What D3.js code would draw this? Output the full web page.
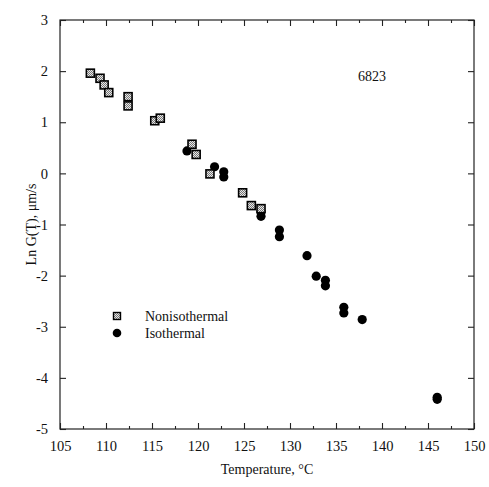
<!DOCTYPE html>
<html>
<head>
<meta charset="utf-8">
<script src="https://cdn.jsdelivr.net/npm/d3@7"></script>
<style>
  html, body { margin: 0; padding: 0; background: #fff; }
  svg text { font-family: "Liberation Serif", "Times New Roman", serif; fill: #111; }
</style>
</head>
<body>
<svg id="chart" width="489" height="487"></svg>
<script>
// Growth rate data, sample 6823
const nonIsoTemp = [108.3, 109.35, 109.8, 110.3, 112.4, 112.4, 115.3, 115.9, 119.35, 119.8, 121.3, 124.85, 125.8, 126.85];
const nonIsoLnG  = [1.96, 1.86, 1.73, 1.58, 1.50, 1.32, 1.03, 1.08, 0.57, 0.37, -0.01, -0.38, -0.63, -0.69];

const isoTemp = [118.8, 121.8, 122.8, 122.8, 126.85, 126.85, 128.85, 128.85, 131.85, 132.85, 133.85, 133.85, 135.85, 135.85, 137.85, 146.0, 146.0];
const isoLnG  = [0.44, 0.13, 0.03, -0.07, -0.75, -0.84, -1.11, -1.24, -1.61, -2.01, -2.09, -2.20, -2.62, -2.73, -2.86, -4.38, -4.42];

const xTicks = [105, 110, 115, 120, 125, 130, 135, 140, 145, 150];
const xMinorTicks = [107.5, 112.5, 117.5, 122.5, 127.5, 132.5, 137.5, 142.5, 147.5];
const yTicks = [-5, -4, -3, -2, -1, 0, 1, 2, 3];

(function () {
  const svg = d3.select("#chart");
  const mLeft = 60, mRight = 474, mTop = 20, mBottom = 429;

  const x = d3.scaleLinear().domain([105, 150]).range([mLeft, mRight]);
  const y = d3.scaleLinear().domain([-5, 3]).range([mBottom, mTop]);

  // plain hyphen for negative labels
  const fmt = d => String(d);

  // hatched fill for the open squares
  const defs = svg.append("defs");
  const pat = defs.append("pattern").attr("id", "hatch")
    .attr("patternUnits", "userSpaceOnUse").attr("width", 2).attr("height", 2);
  pat.append("rect").attr("width", 2).attr("height", 2).attr("fill", "#e8e8e8");
  pat.append("rect").attr("width", 1).attr("height", 1).attr("fill", "#777");
  pat.append("rect").attr("x", 1).attr("y", 1).attr("width", 1).attr("height", 1).attr("fill", "#777");

  // frame
  svg.append("rect").attr("x", mLeft).attr("y", mTop)
    .attr("width", mRight - mLeft).attr("height", mBottom - mTop)
    .attr("fill", "none").attr("stroke", "#222").attr("stroke-width", 1.2);

  const tickStyle = g => g.call(s => s.select(".domain").remove())
    .call(s => s.selectAll("line").attr("stroke", "#222").attr("stroke-width", 1.1));

  // bottom axis (ticks inward)
  svg.append("g").attr("transform", `translate(0,${mBottom})`)
    .call(d3.axisBottom(x).tickValues(xTicks).tickSize(-6).tickPadding(12).tickFormat(fmt))
    .call(tickStyle)
    .call(g => g.selectAll("text").attr("font-size", 14.5).attr("fill", "#111"));
  svg.append("g").attr("transform", `translate(0,${mBottom})`)
    .call(d3.axisBottom(x).tickValues(xMinorTicks).tickSize(-3).tickFormat(""))
    .call(tickStyle);

  // top axis (ticks inward)
  svg.append("g").attr("transform", `translate(0,${mTop})`)
    .call(d3.axisTop(x).tickValues(xTicks).tickSize(-6).tickFormat(""))
    .call(tickStyle);
  svg.append("g").attr("transform", `translate(0,${mTop})`)
    .call(d3.axisTop(x).tickValues(xMinorTicks).tickSize(-3).tickFormat(""))
    .call(tickStyle);

  // left axis
  svg.append("g").attr("transform", `translate(${mLeft},0)`)
    .call(d3.axisLeft(y).tickValues(yTicks).tickSize(-6).tickPadding(12).tickFormat(fmt))
    .call(tickStyle)
    .call(g => g.selectAll("text").attr("font-size", 14.5).attr("fill", "#111"));

  // right axis
  svg.append("g").attr("transform", `translate(${mRight},0)`)
    .call(d3.axisRight(y).tickValues(yTicks).tickSize(-6).tickFormat(""))
    .call(tickStyle);

  // axis titles
  svg.append("text").attr("x", (mLeft + mRight) / 2).attr("y", 474)
    .attr("text-anchor", "middle").attr("font-size", 14).text("Temperature, °C");
  svg.append("text").attr("transform", `translate(36,${(mTop + mBottom) / 2}) rotate(-90)`)
    .attr("text-anchor", "middle").attr("font-size", 14).text("Ln G(T), μm/s");

  // sample label
  svg.append("text").attr("x", 358).attr("y", 81).attr("font-size", 14).text("6823");

  // isothermal points
  const iso = isoTemp.map((t, i) => ({ t, v: isoLnG[i] }));
  svg.append("g").selectAll("circle").data(iso).join("circle")
    .attr("cx", d => x(d.t)).attr("cy", d => y(d.v)).attr("r", 4.6)
    .attr("fill", "#000");

  // nonisothermal points
  const non = nonIsoTemp.map((t, i) => ({ t, v: nonIsoLnG[i] }));
  const sq = 8;
  svg.append("g").selectAll("rect").data(non).join("rect")
    .attr("x", d => x(d.t) - sq / 2).attr("y", d => y(d.v) - sq / 2)
    .attr("width", sq).attr("height", sq)
    .attr("fill", "url(#hatch)").attr("stroke", "#000").attr("stroke-width", 1.6);

  // legend
  const lgX = 117, lgY1 = 316, lgY2 = 333;
  svg.append("rect").attr("x", lgX - 3.5).attr("y", lgY1 - 3.5).attr("width", 7).attr("height", 7)
    .attr("fill", "url(#hatch)").attr("stroke", "#000").attr("stroke-width", 1.4);
  svg.append("circle").attr("cx", lgX).attr("cy", lgY2).attr("r", 4.3).attr("fill", "#000");
  svg.append("text").attr("x", 145).attr("y", lgY1 + 5).attr("font-size", 14).text("Nonisothermal");
  svg.append("text").attr("x", 145).attr("y", lgY2 + 5).attr("font-size", 14).text("Isothermal");
})();
</script>
</body>
</html>
